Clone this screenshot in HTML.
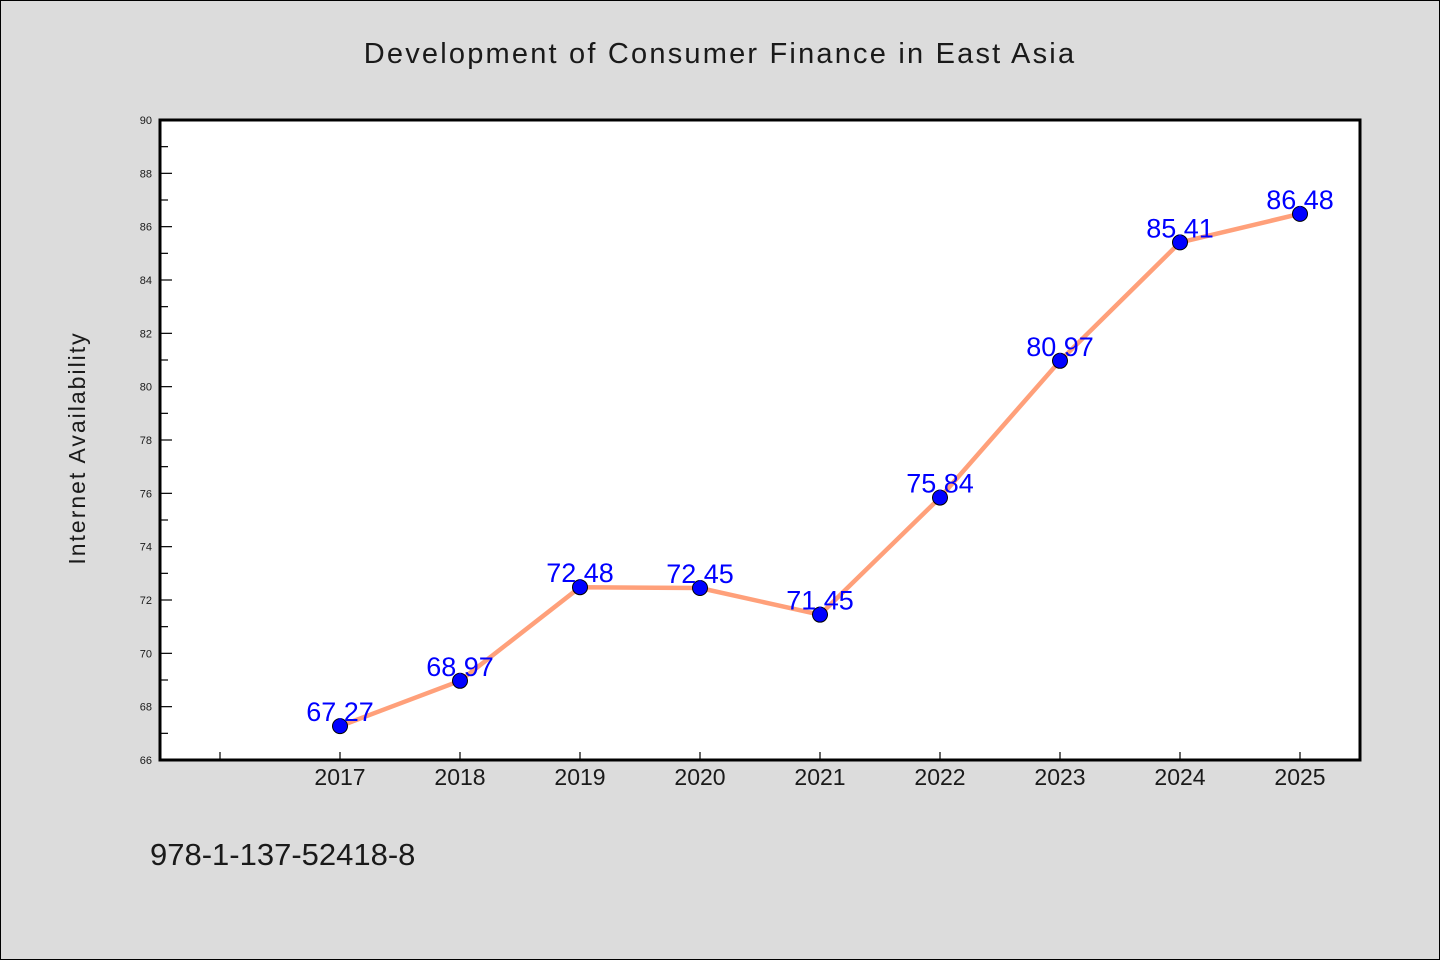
<!DOCTYPE html>
<html><head><meta charset="utf-8"><style>
html,body{margin:0;padding:0;background:#dcdcdc;}
svg{display:block;font-family:"WenQuanYi Zen Hei","Liberation Sans",sans-serif;}
</style></head><body>
<svg id="chart" width="1440" height="960" viewBox="0 0 1440 960">
<rect x="0.5" y="0.5" width="1439" height="959" fill="#dcdcdc" stroke="#000" stroke-width="1"/>
<text x="720" y="63" text-anchor="middle" font-size="29" fill="#1a1a1a" letter-spacing="2.2">Development of Consumer Finance in East Asia</text>
<rect x="160" y="120" width="1200" height="640" fill="#fff"/>
<g id="axes"></g>
<g id="marks"></g>
<rect x="160" y="120" width="1200" height="640" fill="none" stroke="#000" stroke-width="3"/>
<text transform="translate(85,448) rotate(-90)" text-anchor="middle" font-size="23" fill="#1a1a1a" letter-spacing="2">Internet Availability</text>
<text x="150" y="865" font-size="31" fill="#1a1a1a">978-1-137-52418-8</text>
</svg>
<script>
const categories = [2017, 2018, 2019, 2020, 2021, 2022, 2023, 2024, 2025];
const values = [67.27, 68.97, 72.48, 72.45, 71.45, 75.84, 80.97, 85.41, 86.48];
const yTicks = [66, 68, 70, 72, 74, 76, 78, 80, 82, 84, 86, 88, 90];
const xTicks = [2016, 2017, 2018, 2019, 2020, 2021, 2022, 2023, 2024, 2025];

const NS = "http://www.w3.org/2000/svg";
const X0 = 160, X1 = 1360, Y0 = 760, Y1 = 120;
const xMin = 2015.5, xMax = 2025.5, yMin = 66, yMax = 90;
function xs(v){ return X0 + (v - xMin) / (xMax - xMin) * (X1 - X0); }
function ys(v){ return Y0 - (v - yMin) / (yMax - yMin) * (Y0 - Y1); }
function mk(tag, attrs, parent){ const e = document.createElementNS(NS, tag); for (const k in attrs) e.setAttribute(k, attrs[k]); parent.appendChild(e); return e; }

const axes = document.getElementById('axes');
const marks = document.getElementById('marks');

yTicks.forEach(t => {
  const y = ys(t);
  const ln = mk('line', {x1: X0, x2: X0 + 12, y1: y, y2: y, stroke: '#000', 'stroke-width': 1.2}, axes);
  
  
  const tx = mk('text', {x: X0 - 8, y: y + 4, 'text-anchor': 'end', 'font-size': 11, fill: '#1a1a1a'}, axes);
  tx.textContent = t;
  
  
  if (t < yMax) {
    const ym = ys(t + 1);
    const mn = mk('line', {x1: X0, x2: X0 + 8, y1: ym, y2: ym, stroke: '#000', 'stroke-width': 1.2}, axes);
    
    
  }
});

xTicks.forEach(t => {
  const x = xs(t);
  const ln = mk('line', {x1: x, x2: x, y1: Y0, y2: Y0 - 8, stroke: '#000', 'stroke-width': 1.2}, axes);
  
  
});
categories.forEach(c => {
  const tx = mk('text', {x: xs(c), y: Y0 + 25, 'text-anchor': 'middle', 'font-size': 23, fill: '#1a1a1a'}, axes);
  tx.textContent = c;
  
  
});

const pts = categories.map((c, i) => xs(c) + ',' + ys(values[i])).join(' ');
const line = mk('polyline', {points: pts, fill: 'none', stroke: '#ffa07a', 'stroke-width': 4.5, 'stroke-linejoin': 'round'}, marks);



categories.forEach((c, i) => {
  const cx = xs(c), cy = ys(values[i]);
  const p = mk('circle', {cx: cx, cy: cy, r: 7.5, fill: '#0000ff', stroke: '#000', 'stroke-width': 1}, marks);
  
  
});
categories.forEach((c, i) => {
  const cx = xs(c), cy = ys(values[i]);
  const tx = mk('text', {x: cx, y: cy - 5, 'text-anchor': 'middle', 'font-size': 27, fill: '#0000ff'}, marks);
  tx.textContent = values[i].toFixed(2);
  
  
});
</script>
</body></html>
